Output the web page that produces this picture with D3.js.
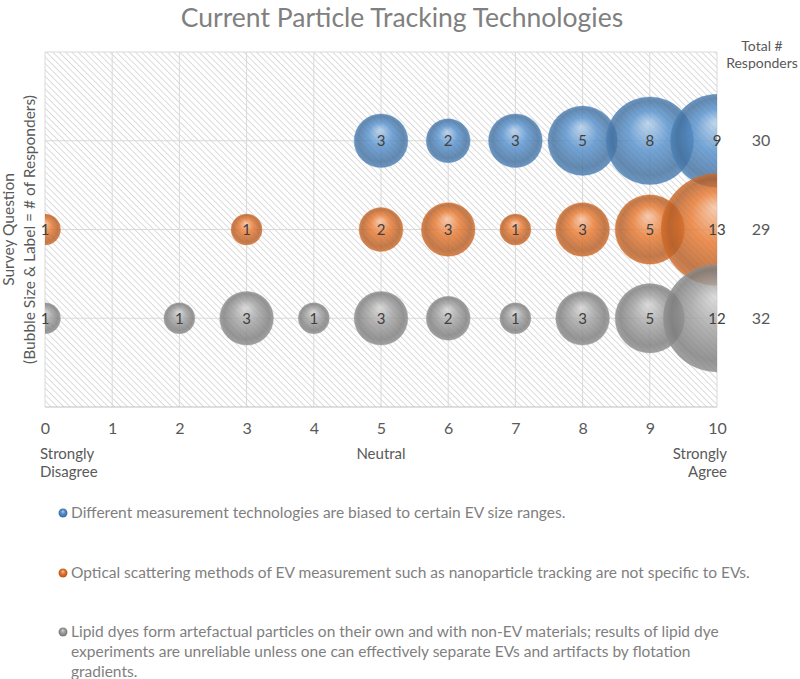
<!DOCTYPE html>
<meta charset="utf-8">
<html>
<head>
	<script src="https://cdn.jsdelivr.net/npm/d3@7"></script>
	<style>
		body { margin: 0; background: #fff; }
		text { font-family: Lato, "Open Sans", sans-serif; }
	</style>
</head>
<body>
	<svg id="chart" width="800" height="679"></svg>
	<script>
		// survey answers 0..10, bubble = number of responders
		var blueX = [5, 6, 7, 8, 9, 10];
		var blueN = [3, 2, 3, 5, 8, 9];
		var orangeX = [0, 3, 5, 6, 7, 8, 9, 10];
		var orangeN = [1, 1, 2, 3, 1, 3, 5, 13];
		var grayX = [0, 2, 3, 4, 5, 6, 7, 8, 9, 10];
		var grayN = [1, 1, 3, 1, 3, 2, 1, 3, 5, 12];
		var totals = [30, 29, 32];
		var xTicks = [0, 1, 2, 3, 4, 5, 6, 7, 8, 9, 10];
		var legendText = [
			"Different measurement technologies are biased to certain EV size ranges.",
			"Optical scattering methods of EV measurement such as nanoparticle tracking are not specific to EVs.",
			["Lipid dyes form artefactual particles on their own and with non-EV materials; results of lipid dye",
			 "experiments are unreliable unless one can effectively separate EVs and artifacts by flotation",
			 "gradients."]
		];

		var series = [
			{name: "blue", row: 3, xs: blueX, ns: blueN, color: "#5590cc", total: totals[0]},
			{name: "orange", row: 2, xs: orangeX, ns: orangeN, color: "#e8782f", total: totals[1]},
			{name: "gray", row: 1, xs: grayX, ns: grayN, color: "#a0a0a0", total: totals[2]}
		];

		var plot = {left: 45, right: 717, top: 52, bottom: 407};

		var x = d3.scaleLinear().domain([0, 10]).range([plot.left, plot.right]);
		var y = d3.scaleLinear().domain([0, 4]).range([plot.bottom, plot.top]);
		var r = d3.scaleSqrt().domain([0, 1]).range([0, 15.5]);

		var svg = d3.select("#chart");
		var defs = svg.append("defs");

		// hatched plot background
		var pat = defs.append("pattern")
			.attr("id", "hatch")
			.attr("width", 4.5).attr("height", 4.5)
			.attr("patternUnits", "userSpaceOnUse")
			.attr("patternTransform", "rotate(-45)");
		pat.append("rect").attr("width", 4.5).attr("height", 4.5).attr("fill", "#fff");
		pat.append("line")
			.attr("x1", 0).attr("y1", 0).attr("x2", 0).attr("y2", 4.5)
			.attr("stroke", "#cdcdcd").attr("stroke-width", 1.4);

		defs.append("clipPath").attr("id", "plotClip")
			.append("rect")
			.attr("x", plot.left).attr("y", plot.top)
			.attr("width", plot.right - plot.left).attr("height", plot.bottom - plot.top);

		// sphere look for each colour
		series.forEach(function(s) {
			var c = d3.color(s.color);
			var g = defs.append("radialGradient")
				.attr("id", "sphere-" + s.name)
				.attr("cx", "50%").attr("cy", "50%").attr("r", "50%")
				.attr("fx", "48%").attr("fy", "30%");
			g.append("stop").attr("offset", "0%").attr("stop-color", d3.interpolateRgb(s.color, "#fff")(0.55));
			g.append("stop").attr("offset", "45%").attr("stop-color", s.color);
			g.append("stop").attr("offset", "85%").attr("stop-color", c.darker(0.7));
			g.append("stop").attr("offset", "100%").attr("stop-color", c.darker(0.35));
		});

		svg.append("rect")
			.attr("x", plot.left).attr("y", plot.top)
			.attr("width", plot.right - plot.left).attr("height", plot.bottom - plot.top)
			.attr("fill", "url(#hatch)");

		// gridlines
		var grid = svg.append("g").attr("stroke", "#d9d9d9").attr("stroke-width", 1);
		grid.selectAll(".vx").data(xTicks).enter().append("line")
			.attr("x1", function(d) { return x(d); }).attr("x2", function(d) { return x(d); })
			.attr("y1", plot.top).attr("y2", plot.bottom);
		grid.selectAll(".hy").data([1, 2, 3, 4]).enter().append("line")
			.attr("x1", plot.left).attr("x2", plot.right)
			.attr("y1", function(d) { return y(d); }).attr("y2", function(d) { return y(d); });
		grid.append("line")
			.attr("x1", plot.left).attr("x2", plot.right)
			.attr("y1", plot.bottom).attr("y2", plot.bottom)
			.attr("stroke", "#bfbfbf");

		// bubbles
		var bubbles = svg.append("g").attr("clip-path", "url(#plotClip)");
		series.forEach(function(s) {
			var pts = s.xs.map(function(v, i) { return {x: v, n: s.ns[i]}; });
			bubbles.append("g").selectAll("circle").data(pts).enter().append("circle")
				.attr("cx", function(d) { return x(d.x); })
				.attr("cy", y(s.row))
				.attr("r", function(d) { return r(d.n); })
				.attr("fill", "url(#sphere-" + s.name + ")")
				.attr("fill-opacity", 0.82)
				.attr("stroke", d3.color(s.color).darker(0.2))
				.attr("stroke-opacity", 0.35)
				.attr("stroke-width", 1);
		});

		// bubble labels
		var labels = svg.append("g")
			.attr("font-size", 15).attr("fill", "#404040").attr("text-anchor", "middle");
		series.forEach(function(s) {
			labels.append("g").selectAll("text").data(s.xs).enter().append("text")
				.attr("x", function(d) { return x(d); })
				.attr("y", y(s.row))
				.attr("dy", "0.35em")
				.text(function(d, i) { return s.ns[i]; });
		});

		// x axis labels
		var xAxis = svg.append("g")
			.attr("transform", "translate(0," + plot.bottom + ")")
			.call(d3.axisBottom(x).tickValues(xTicks).tickSize(0).tickPadding(16).tickFormat(d3.format("d")));
		xAxis.select(".domain").remove();
		xAxis.selectAll("text")
			.attr("font-family", "Lato, sans-serif").attr("font-size", 16).attr("fill", "#595959");

		var sub = svg.append("g").attr("font-size", 15).attr("fill", "#595959");
		sub.append("text").attr("x", x(0) - 5).attr("y", 459).text("Strongly");
		sub.append("text").attr("x", x(0) - 5).attr("y", 477).text("Disagree");
		sub.append("text").attr("x", x(5)).attr("y", 459).attr("text-anchor", "middle").text("Neutral");
		sub.append("text").attr("x", x(10) + 10).attr("y", 459).attr("text-anchor", "end").text("Strongly");
		sub.append("text").attr("x", x(10) + 10).attr("y", 477).attr("text-anchor", "end").text("Agree");

		// y axis title
		var yt = svg.append("g")
			.attr("transform", "translate(0," + ((plot.top + plot.bottom) / 2) + ") rotate(-90)")
			.attr("font-size", 15.5).attr("fill", "#595959").attr("text-anchor", "middle");
		yt.append("text").attr("x", 0).attr("y", 14).text("Survey Question");
		yt.append("text").attr("x", 0).attr("y", 35).text("(Bubble Size & Label = # of Responders)");

		// totals on the right
		var tot = svg.append("g").attr("fill", "#595959").attr("text-anchor", "middle");
		tot.append("text").attr("x", 762).attr("y", 51).attr("font-size", 14).text("Total #");
		tot.append("text").attr("x", 762).attr("y", 68).attr("font-size", 14).text("Responders");
		tot.selectAll(".tv").data(series).enter().append("text")
			.attr("x", 761)
			.attr("y", function(s) { return y(s.row); })
			.attr("dy", "0.35em")
			.attr("font-size", 16)
			.text(function(s) { return s.total; });

		// title
		svg.append("text")
			.attr("x", 402).attr("y", 27)
			.attr("text-anchor", "middle")
			.attr("font-size", 26.5).attr("fill", "#808080")
			.text("Current Particle Tracking Technologies");

		// legend
		var legY = [513, 573, 632];
		var leg = svg.append("g").attr("font-size", 15.5).attr("fill", "#7f7f7f");
		series.forEach(function(s, i) {
			leg.append("circle")
				.attr("cx", 63).attr("cy", legY[i]).attr("r", 4.5)
				.attr("fill", "url(#sphere-" + s.name + ")");
			var lines = [].concat(legendText[i]);
			lines.forEach(function(t, j) {
				leg.append("text")
					.attr("x", 71).attr("y", legY[i] + j * 20)
					.attr("dy", "0.32em")
					.text(t);
			});
		});
	</script>
</body>
</html>
